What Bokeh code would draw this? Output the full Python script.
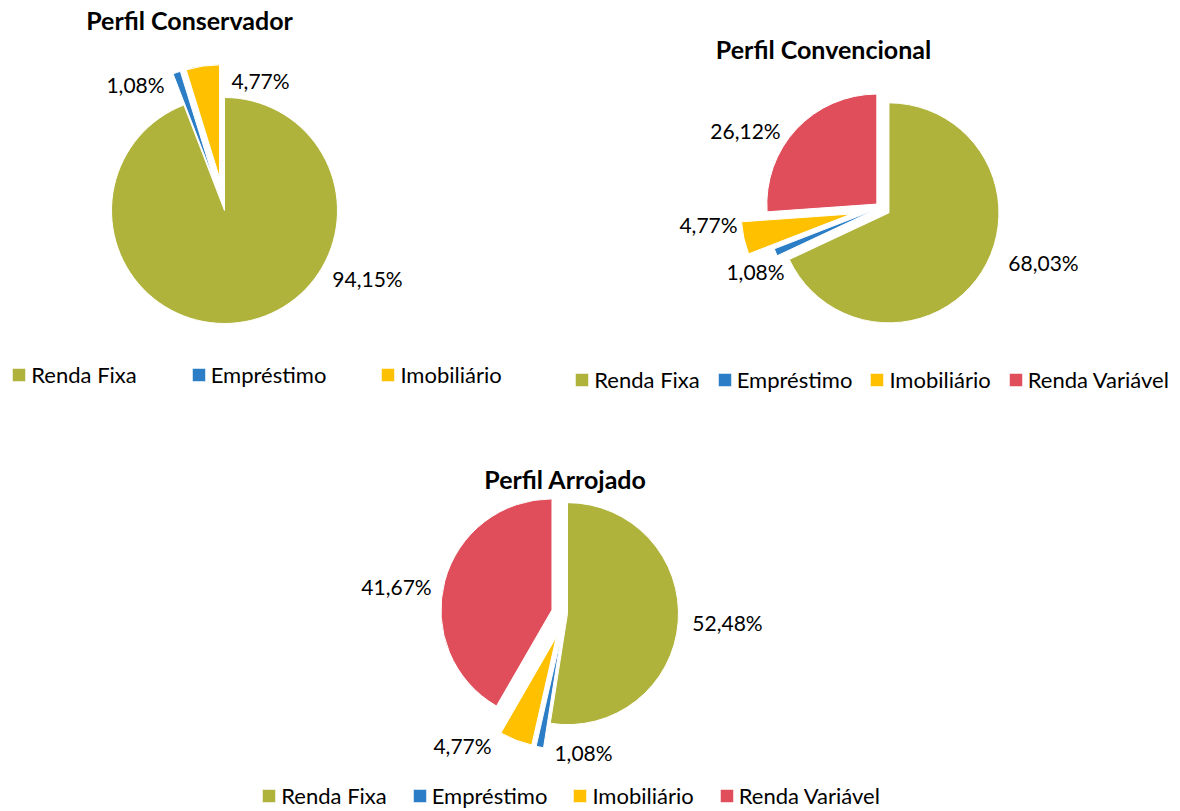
import math
from bokeh.plotting import figure
from bokeh.models import ColumnDataSource, Range1d, Legend, LegendItem, Label
from bokeh.core.properties import value
from bokeh.embed import file_html
from bokeh.resources import INLINE

# ---- data ----
categories_cons = ["Renda Fixa", "Empréstimo", "Imobiliário"]
values_cons = [94.15, 1.08, 4.77]
categories_full = ["Renda Fixa", "Empréstimo", "Imobiliário", "Renda Variável"]
values_conv = [68.03, 1.08, 4.77, 26.12]
values_arro = [52.48, 1.08, 4.77, 41.67]
titles = ["Perfil Conservador", "Perfil Convencional", "Perfil Arrojado"]
colors = ["#AFB33B", "#2B7DC6", "#FFC000", "#E04E5B"]

FONT = "Lato"
W, H = 1180, 811


def X(px):
    return px


def Y(py):
    return H - py


p = figure(width=W, height=H, x_range=Range1d(0, W), y_range=Range1d(0, H),
           output_backend="svg", toolbar_location=None, min_border=0,
           x_axis_location=None, y_axis_location=None)
p.grid.visible = False
p.outline_line_color = None


def fmt(v):
    return f"{v:.2f}".replace(".", ",") + "%"


def pie(title, title_pos, cx, cy, r, vals, cats, explode, label_pos, legend_xy, spacing):
    total = sum(vals)
    xs, ys, starts, ends = [], [], [], []
    cum = 0.0
    for v, d in zip(vals, explode):
        a0 = math.pi / 2 - 2 * math.pi * cum / total
        cum += v
        a1 = math.pi / 2 - 2 * math.pi * cum / total
        mid = (a0 + a1) / 2
        xs.append(X(cx) + d * math.cos(mid))
        ys.append(Y(cy) + d * math.sin(mid))
        starts.append(a1)
        ends.append(a0)
    src = ColumnDataSource(dict(x=xs, y=ys, start=starts, end=ends,
                                color=colors[:len(vals)], cat=cats))
    rend = p.wedge(x="x", y="y", radius=r, start_angle="start", end_angle="end",
                   fill_color="color", line_color="white", line_width=1, source=src)
    lsrc = ColumnDataSource(dict(x=[X(a) for a, b in label_pos],
                                 y=[Y(b) for a, b in label_pos],
                                 t=[fmt(v) for v in vals]))
    p.text(x="x", y="y", text="t", source=lsrc, text_font=value(FONT),
           text_font_size="21px", text_align="center", text_baseline="middle",
           text_color="#000000")
    p.add_layout(Label(x=X(title_pos[0]), y=Y(title_pos[1]), text=title,
                       text_font=FONT, text_font_style="bold", text_font_size="25px",
                       text_align="center", text_baseline="middle", text_color="#000000"))
    leg = Legend(items=[LegendItem(label=c, renderers=[rend], index=i) for i, c in enumerate(cats)],
                 orientation="horizontal",
                 location=(X(legend_xy[0]) - 1.7, Y(legend_xy[1]) - 12),
                 padding=0, margin=0, spacing=spacing, glyph_width=17, glyph_height=17,
                 label_standoff=4, label_height=24, label_text_font=FONT,
                 label_text_font_size="22px", label_text_color="#000000",
                 border_line_color=None, background_fill_alpha=0)
    p.add_layout(leg)


pie(titles[0], (189, 19), 224, 210, 113, values_cons, categories_cons, [0, 33, 33],
    [(367, 278), (135, 84), (260, 80)], (12, 376), 53)
pie(titles[1], (823, 48), 880, 207, 110, values_conv, categories_full, [10, 4, 30, 5],
    [(1043, 262), (755, 271), (708, 224), (745, 130)], (575, 381), 16)
pie(titles[2], (565, 478), 565, 613, 111, values_arro, categories_full, [2, 25, 25, 14],
    [(727, 622), (583, 752), (462, 745), (396, 586)], (262, 797), 24)

open("out.html", "w").write(file_html(p, INLINE))
